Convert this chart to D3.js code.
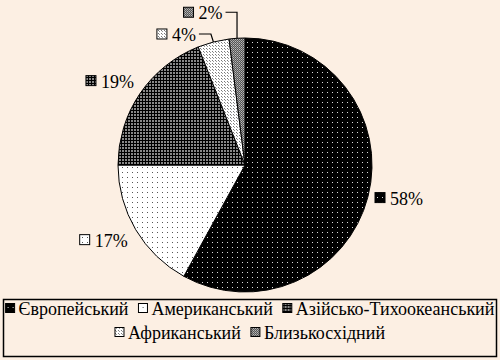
<!DOCTYPE html>
<html>
<head>
<meta charset="utf-8">
<script src="https://cdn.jsdelivr.net/npm/d3@7"></script>
<style>
  body { margin: 0; background: #fcefe3; }
  text { font-family: "Liberation Serif", "Times New Roman", serif; fill: #000; }
</style>
</head>
<body>
<div id="chart"></div>
<script>
const regions = ["Європейський", "Американський", "Азійсько-Тихоокеанський", "Африканський", "Близькосхідний"];
const shares = [58, 17, 19, 4, 2];
const legendRows = [[0, 1, 2], [3, 4]];
// label nudges from slice edge midpoint (layout only)
const labelNudge = [[31, 1], [-32, 10], [-30, -13], [-37, -8], [-34, -26]];
const leader = [false, false, false, true, true];

const width = 500, height = 360;
const cx = 245, cy = 165, r = 127;

const svg = d3.select("#chart").append("svg")
  .attr("width", width).attr("height", height);

svg.append("rect").attr("width", width).attr("height", height).attr("fill", "#fcefe3");

// fill patterns, one per region
const defs = svg.append("defs");
function pattern(id, size, bg, cells) {
  const p = defs.append("pattern").attr("id", id)
    .attr("patternUnits", "userSpaceOnUse").attr("width", size).attr("height", size);
  p.append("rect").attr("width", size).attr("height", size).attr("fill", bg);
  cells.forEach(c => p.append("rect").attr("x", c[0]).attr("y", c[1])
    .attr("width", c[2]).attr("height", c[3]).attr("fill", c[4]));
}
pattern("p0", 5, "#000", [[2, 2, 1, 1, "#ddd"]]);
pattern("p1", 5, "#fff", [[2, 2, 1, 1, "#555"]]);
pattern("p2", 3, "#000", [[0, 0, 2, 2, "#888"]]);
pattern("p3", 3, "#fff", [[0, 0, 1, 1, "#777"], [1, 1, 1, 1, "#999"]]);
pattern("p4", 2, "#555", [[0, 0, 1, 1, "#bbb"], [1, 1, 1, 1, "#999"]]);
const fillOf = i => `url(#p${i})`;

const pie = d3.pie().sort(null).value(d => d)(shares);
const arc = d3.arc().innerRadius(0).outerRadius(r);
const edge = d3.arc().innerRadius(r).outerRadius(r);

const g = svg.append("g").attr("transform", `translate(${cx},${cy})`);
g.selectAll("path").data(pie).join("path")
  .attr("d", arc)
  .attr("fill", (d, i) => fillOf(i))
  .attr("stroke", "#000").attr("stroke-width", 1);

// data labels
const fmt = d => d + "%";
pie.forEach((d, i) => {
  const [ex, ey] = edge.centroid(d);
  const lx = ex + labelNudge[i][0], ly = ey + labelNudge[i][1];
  const lg = g.append("g");
  const t = lg.append("text").attr("font-size", 18).attr("dominant-baseline", "central")
    .text(fmt(shares[i]));
  const tw = t.node().getComputedTextLength();
  const total = 10 + 5 + tw;
  const x0 = lx - total / 2;
  lg.append("rect").attr("x", x0).attr("y", ly - 5).attr("width", 10).attr("height", 10)
    .attr("fill", fillOf(i)).attr("stroke", "#000").attr("stroke-width", 1);
  t.attr("x", x0 + 15).attr("y", ly + 1);
  if (leader[i]) {
    const sx = x0 + total + 3;
    const mx = Math.min(ex, sx + 12);
    g.append("polyline")
      .attr("points", `${sx},${ly} ${mx},${ly} ${ex},${ey}`)
      .attr("fill", "none").attr("stroke", "#000").attr("stroke-width", 1.2);
  }
});

// legend
svg.append("rect").attr("x", 3.5).attr("y", 299.5).attr("width", 493).attr("height", 57)
  .attr("fill", "none").attr("stroke", "#000").attr("stroke-width", 1.5);

const rowY = [308, 332];
legendRows.forEach((row, ri) => {
  const lg = svg.append("g");
  let x = 0;
  row.forEach((i, k) => {
    lg.append("rect").attr("x", x).attr("y", rowY[ri] - 4.5).attr("width", 9).attr("height", 9)
      .attr("fill", fillOf(i)).attr("stroke", "#000").attr("stroke-width", 1);
    const t = lg.append("text").attr("x", x + 13).attr("y", rowY[ri] + 1)
      .attr("font-size", 18).attr("dominant-baseline", "central").text(regions[i]);
    x += 13 + t.node().getComputedTextLength() + 10;
  });
  x -= 10;
  lg.attr("transform", `translate(${(width - x) / 2},0)`);
});
</script>
</body>
</html>
